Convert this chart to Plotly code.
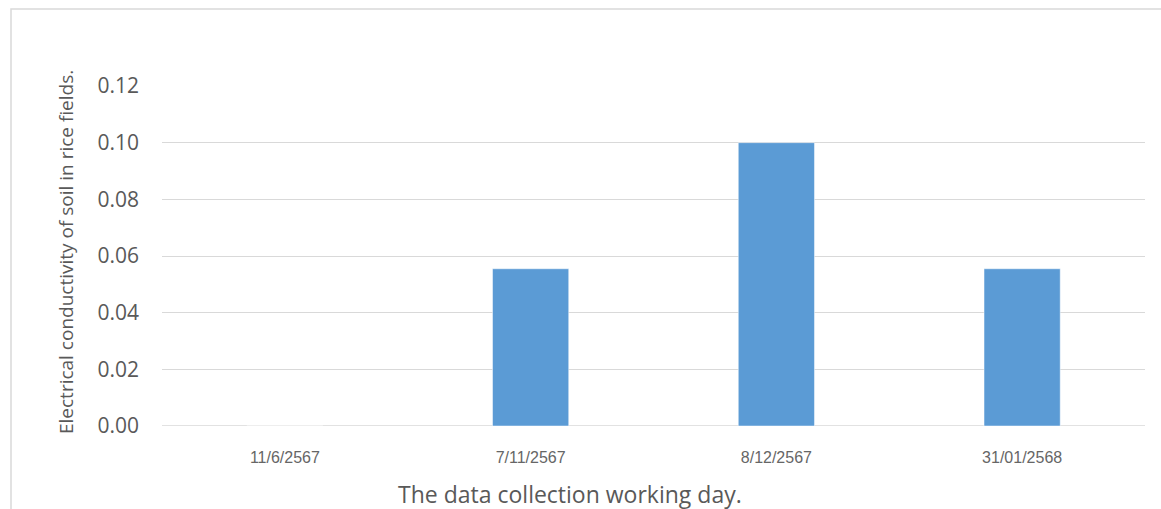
import plotly.graph_objects as go

# Soil EC readings per collection date
dates = ["11/6/2567", "7/11/2567", "8/12/2567", "31/01/2568"]
ec_values = [0.0, 0.0555, 0.10, 0.0555]
y_ticks = [0.00, 0.02, 0.04, 0.06, 0.08, 0.10, 0.12]
y_tick_text = ["0.00", "0.02", "0.04", "0.06", "0.08", "0.10", "0.12"]

W, H = 1161, 509
L, R, T, B = 162, 16, 86, 83
pw, ph = W - L - R, H - T - B

def px_x(x):
    return (x - L) / pw

def px_y(y):
    return (H - B - y) / ph

fig = go.Figure(
    go.Bar(
        x=dates,
        y=ec_values,
        marker=dict(color="#5b9bd5", line=dict(color="rgba(255,255,255,0.6)", width=0.8)),
        width=0.31,
        hoverinfo="x+y",
    )
)

fig.update_layout(
    width=W,
    height=H,
    margin=dict(l=L, r=R, t=T, b=B),
    paper_bgcolor="white",
    plot_bgcolor="white",
    showlegend=False,
    font=dict(family="Open Sans, sans-serif", color="#595959"),
    xaxis=dict(
        type="category",
        showgrid=False,
        showline=False,
        zeroline=False,
        ticks="",
        ticklabelstandoff=20,
        tickfont=dict(family="Liberation Sans, Arial, sans-serif", size=16, color="#666666"),
    ),
    yaxis=dict(
        range=[0, 0.12],
        tickvals=y_ticks,
        ticktext=y_tick_text,
        showgrid=True,
        gridcolor="#d9d9d9",
        gridwidth=1.2,
        zeroline=False,
        showline=False,
        ticks="",
        ticklabelstandoff=22,
        tickfont=dict(family="Open Sans, sans-serif", size=21, color="#595959"),
    ),
    shapes=[
        # zero baseline
        dict(type="line", xref="paper", yref="y", x0=0, x1=1, y0=0, y1=0,
             line=dict(color="#d9d9d9", width=1.5), layer="below"),
        # chart frame
        dict(type="rect", xref="paper", yref="paper",
             x0=px_x(11), x1=px_x(1175), y0=px_y(9), y1=px_y(530),
             line=dict(color="#d9d9d9", width=1.5), fillcolor="rgba(0,0,0,0)"),
    ],
    annotations=[
        dict(text="Electrical conductivity of soil in rice fields.",
             xref="paper", yref="paper", x=px_x(66), y=px_y(252),
             xanchor="center", yanchor="middle", textangle=-90, showarrow=False,
             font=dict(family="Open Sans, sans-serif", size=19, color="#595959")),
        dict(text="The data collection working day.",
             xref="paper", yref="paper", x=px_x(570), y=px_y(494),
             xanchor="center", yanchor="middle", showarrow=False,
             font=dict(family="Open Sans, sans-serif", size=23, color="#595959")),
    ],
)

fig.write_html("out.html")
